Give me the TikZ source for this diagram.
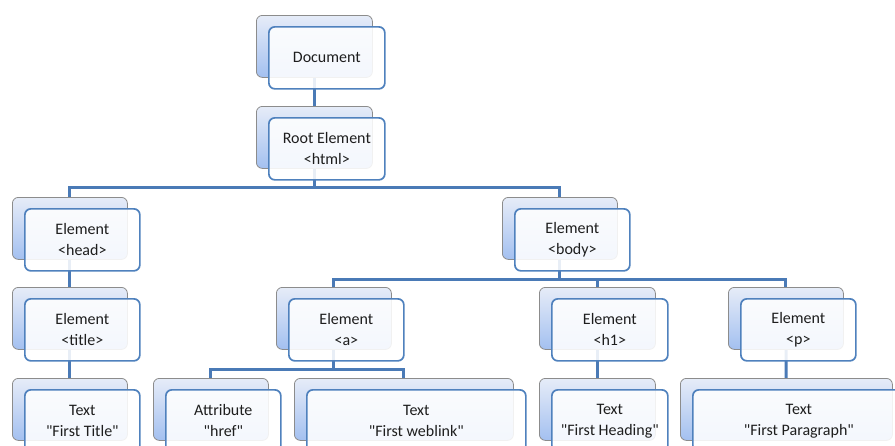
\documentclass[tikz,border=0pt]{standalone}
\usepackage{fontspec}
\setmainfont{Carlito}[Ligatures=TeXOff]
\usetikzlibrary{backgrounds}

\definecolor{linkblue}{HTML}{4A7AB6}
\definecolor{frameblue}{HTML}{4F81BD}
\definecolor{backtop}{HTML}{E6ECF8}
\definecolor{backbot}{HTML}{A3C0F0}
\definecolor{backedge}{HTML}{8C8C8C}
\definecolor{inktext}{HTML}{1E1E1E}

\tikzset{
  backcard/.style={draw=backedge, line width=0.8pt, rounded corners=6pt,
    top color=backtop, bottom color=backbot, minimum height=62pt,
    inner sep=0pt, anchor=north west},
  frontcard/.style={draw=frameblue, line width=1.7pt, rounded corners=6pt,
    fill=white, fill opacity=0.88, text opacity=1, text=inktext,
    minimum height=62pt, inner sep=0pt, anchor=north west, align=center,
    font=\fontsize{16}{21}\selectfont},
  conn/.style={draw=linkblue, line width=3pt}
}

% #1 name, #2 x, #3 y (top-left of the rear card), #4 width, #5 label
\newcommand\domnode[5]{%
  \node[backcard, minimum width=#4] (#1) at (#2,#3) {};
  \node[frontcard, minimum width=#4] (#1-f) at (#2+12,#3+11) {#5};
}

\begin{document}
\begin{tikzpicture}[x=1pt,y=-1pt]
  \useasboundingbox (0,0) rectangle (895,445);
  \clip (0,0) rectangle (895,445);

  % levels of the tree
  \domnode{doc}{256}{15}{116pt}{Document}
  \domnode{root}{256}{106}{116pt}{Root Element\\<html>}
  \domnode{head}{12}{197}{115pt}{Element\\<head>}
  \domnode{body}{502}{197}{115pt}{Element\\<body>}
  \domnode{title}{12}{287}{115pt}{Element\\<title>}
  \domnode{anch}{276}{287}{115pt}{Element\\<a>}
  \domnode{hone}{539}{287}{116pt}{Element\\<h1>}
  \domnode{para}{728}{287}{115pt}{Element\\<p>}
  \domnode{titletext}{12}{378}{115pt}{Text\\"First Title"}
  \domnode{href}{153}{378}{115pt}{Attribute\\"href"}
  \domnode{linktext}{294}{378}{219pt}{Text\\"First weblink"}
  \domnode{headtext}{539}{378}{116pt}{Text\\"First Heading"}
  \domnode{paratext}{680}{378}{212pt}{Text\\"First Paragraph"}

  % rails of the elbow connectors
  \coordinate (railA) at (0,187);
  \coordinate (railB) at (0,279);
  \coordinate (railC) at (0,369);

  \begin{scope}[on background layer]
    \draw[conn] (doc.center) -- (root.center);
    \draw[conn] (root.center) -- (root.center |- railA);
    \draw[conn] (head.center) |- (root.center |- railA) -| (body.center);
    \draw[conn] (head.center) -- (title.center);
    \draw[conn] (title.center) -- (titletext.center);
    \draw[conn] (body.center) -- (body.center |- railB);
    \draw[conn] (anch.center) |- (body.center |- railB) -| (para.center);
    \draw[conn] (body.center |- railB) -| (hone.center);
    \draw[conn] (anch.center) -- (anch.center |- railC);
    \draw[conn] (href.center) |- (anch.center |- railC) -| (linktext.center);
    \draw[conn] (hone.center) -- (headtext.center);
    \draw[conn] (para.center) -- (paratext.center);
  \end{scope}
\end{tikzpicture}
\end{document}
